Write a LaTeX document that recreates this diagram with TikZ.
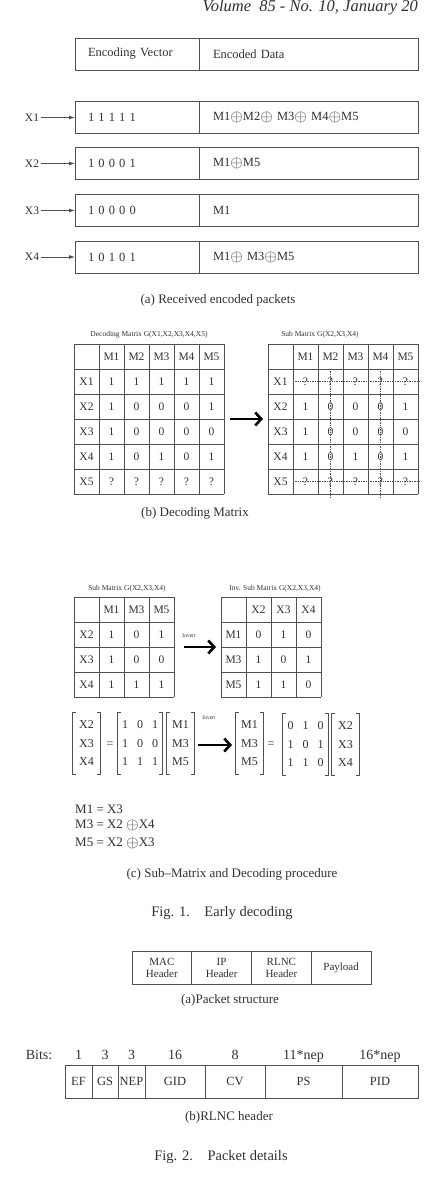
\documentclass[tikz,border=0pt]{standalone}
\usepackage{fontspec}
\setmainfont{Liberation Serif}
\usepackage{xcolor}
\definecolor{ink}{HTML}{303030}
\definecolor{rule}{HTML}{505050}
\usepackage{tikz}
\usetikzlibrary{positioning,arrows.meta}
\newcommand\fsz[2]{\fontsize{#1}{#2}\selectfont}
\newcommand\xorop{\raisebox{-0.15ex}{\scalebox{1.35}{$\oplus$}}}
\renewcommand\arraystretch{1.3}

\begin{document}
\begin{tikzpicture}[x=1pt,y=-1pt,text=ink,
  pkbox/.style={draw=rule,line width=0.9pt,outer sep=0pt,inner ysep=0pt,minimum height=32pt,align=left,font=\fsz{12.5}{15}},
  vecbox/.style={pkbox,text width=98pt,inner xsep=13pt},
  datbox/.style={pkbox,text width=191pt,inner xsep=14pt},
  lbl/.style={font=\fsz{11.5}{14},inner sep=2pt},
  pkarrow/.style={draw=rule,line width=0.8pt,-{Latex[length=6pt,width=4pt]}},
  tline/.style={draw=rule,line width=1pt},
  cell/.style={font=\fsz{11.5}{14},inner sep=0pt},
  ttl/.style={font=\fsz{7.5}{9}},
  caption/.style={font=\fsz{13}{16}},
  figcap/.style={font=\fsz{14.5}{17}},
  bigarrow/.style={line width=2.6pt,-{Straight Barb[length=6pt,width=13pt]}},
  dotline/.style={draw=rule,densely dotted,line width=0.7pt},
  brk/.style={draw=rule,line width=0.8pt},
  eq/.style={font=\fsz{12}{14.4},inner xsep=3pt,inner ysep=0pt,minimum height=61pt},
  field/.style={draw=rule,line width=0.9pt,outer sep=0pt,minimum height=33pt,inner sep=0pt,font=\fsz{12.5}{15}}]

  \useasboundingbox (0,0) rectangle (433,1180);
  \node[anchor=base west,font=\itshape\fsz{16.5}{19}] (vol) at (199,12) {Volume\ \ 85 - No. 10, January 20};

  % (a) received packets
  \node[vecbox,anchor=west] (hv) at (75,54) {Encoding Vector};
  \node[datbox,right=0pt of hv] (hd) {Encoded Data};
  \foreach \i/\y/\vec/\dat in {
    1/117.5/1 1 1 1 1/{M1\xorop M2\xorop\ M3\xorop\ M4\xorop M5},
    2/163.5/1 0 0 0 1/{M1\xorop M5},
    3/210.5/1 0 0 0 0/{M1},
    4/257/1 0 1 0 1/{M1\xorop\ M3\xorop M5}} {
    \node[vecbox,anchor=west] (v\i) at (75,\y) {\vec};
    \node[datbox,right=0pt of v\i] (d\i) {\dat};
    \node[lbl] (x\i) at (32,\y) {X\i};
    \draw[pkarrow] (x\i) -- (v\i);
  }
  \node[caption] (capa) at (218,300) {(a) Received encoded packets};

  % table grids
  \foreach \ox/\oy/\n in {74/344/6,268/344/6,74/597/4,221/597/4}
    \foreach \k in {0,...,\n} {
      \draw[tline] (\ox+25*\k,\oy) -- (\ox+25*\k,\oy+25*\n);
      \draw[tline] (\ox,\oy+25*\k) -- (\ox+25*\n,\oy+25*\k);
    }

  % (b) decoding matrix
  \node[ttl] (tb1) at (149,335) {Decoding Matrix G(X1,X2,X3,X4,X5)};
  \node[ttl] (tb2) at (320,335) {Sub Matrix G(X2,X3,X4)};
  \foreach \j in {1,...,5} {
    \node[cell] (bl-h\j) at (86.5+25*\j,356.5) {M\j};
    \node[cell] (br-h\j) at (280.5+25*\j,356.5) {M\j};
  }
  \foreach \r/\vals [count=\i] in {X1/{1,1,1,1,1},X2/{1,0,0,0,1},X3/{1,0,0,0,0},X4/{1,0,1,0,1},X5/{?,?,?,?,?}} {
    \node[cell] (bl-\i) at (86.5,356.5+25*\i) {\r};
    \foreach \v [count=\j] in \vals
      \node[cell] (bl-\i-\j) at (86.5+25*\j,356.5+25*\i) {\v};
  }
  \foreach \r/\vals [count=\i] in {X1/{?,?,?,?,?},X2/{1,0,0,0,1},X3/{1,0,0,0,0},X4/{1,0,1,0,1},X5/{?,?,?,?,?}} {
    \node[cell] (br-\i) at (280.5,356.5+25*\i) {\r};
    \foreach \v [count=\j] in \vals
      \node[cell] (br-\i-\j) at (280.5+25*\j,356.5+25*\i) {\v};
  }
  \draw[dotline] (293,381.5) -- (420,381.5);
  \draw[dotline] (293,481.5) -- (420,481.5);
  \draw[dotline] (330.5,369) -- (330.5,498);
  \draw[dotline] (380.5,369) -- (380.5,498);
  \coordinate (b-tail) at (230,419);
  \coordinate (b-head) at (263,419);
  \draw[bigarrow] (b-tail) -- (b-head);
  \node[caption] (capb) at (195,513) {(b) Decoding Matrix};

  % (c) sub-matrix and inverse
  \node[ttl] (tc1) at (127,589) {Sub Matrix G(X2,X3,X4)};
  \node[ttl] (tc2) at (275,589) {Inv. Sub Matrix G(X2,X3,X4)};
  \foreach \a/\b [count=\j] in {M1/X2,M3/X3,M5/X4} {
    \node[cell] (cl-h\j) at (86.5+25*\j,609.5) {\a};
    \node[cell] (cr-h\j) at (233.5+25*\j,609.5) {\b};
  }
  \foreach \ra/\va/\rb/\vb [count=\i] in {X2/{1,0,1}/M1/{0,1,0},X3/{1,0,0}/M3/{1,0,1},X4/{1,1,1}/M5/{1,1,0}} {
    \node[cell] (cl-\i) at (86.5,609.5+25*\i) {\ra};
    \node[cell] (cr-\i) at (233.5,609.5+25*\i) {\rb};
    \foreach \v [count=\j] in \va
      \node[cell] (cl-\i-\j) at (86.5+25*\j,609.5+25*\i) {\v};
    \foreach \v [count=\j] in \vb
      \node[cell] (cr-\i-\j) at (233.5+25*\j,609.5+25*\i) {\v};
  }
  \node[font=\fsz{5.5}{7}] (inv1) at (189,636) {Invert};
  \coordinate (c-tail) at (184,647);
  \coordinate (c-head) at (216,647);
  \draw[bigarrow] (c-tail) -- (c-head);

  % matrix equations
  \node[eq,minimum width=27pt] (e1) at (86.5,743.5) {\begin{tabular}{@{}c@{}}X2\\X3\\X4\end{tabular}};
  \node[eq,minimum height=0pt] (e2) at (110,745) {=};
  \node[eq,minimum width=44pt] (e3) at (140,743.5) {\begin{tabular}{@{}c@{\hspace{9pt}}c@{\hspace{9pt}}c@{}}1&0&1\\1&0&0\\1&1&1\end{tabular}};
  \node[eq,minimum width=27pt] (e4) at (180.5,743.5) {\begin{tabular}{@{}c@{}}M1\\M3\\M5\end{tabular}};
  \node[font=\fsz{5.5}{7}] (inv2) at (209,718) {Invert};
  \coordinate (e-tail) at (198,745);
  \coordinate (e-head) at (232,745);
  \draw[bigarrow] (e-tail) -- (e-head);
  \node[eq,minimum width=27pt] (e6) at (249.5,743.5) {\begin{tabular}{@{}c@{}}M1\\M3\\M5\end{tabular}};
  \node[eq,minimum height=0pt] (e7) at (271,745) {=};
  \node[eq,minimum width=45pt] (e8) at (305.5,744.5) {\begin{tabular}{@{}c@{\hspace{9pt}}c@{\hspace{9pt}}c@{}}0&1&0\\1&0&1\\1&1&0\end{tabular}};
  \node[eq,minimum width=27pt] (e9) at (345.5,744.5) {\begin{tabular}{@{}c@{}}X2\\X3\\X4\end{tabular}};
  \foreach \n in {e1,e3,e4,e6,e8,e9}
    \draw[brk] ([xshift=3pt]\n.north west) -- (\n.north west) -- (\n.south west) -- ([xshift=3pt]\n.south west)
               ([xshift=-3pt]\n.north east) -- (\n.north east) -- (\n.south east) -- ([xshift=-3pt]\n.south east);

  \foreach \t/\y [count=\i] in {M1 = X3/809,M3 = X2 \xorop X4/825,M5 = X2 \xorop X3/843}
    \node[font=\fsz{13}{15},anchor=west,inner sep=0pt] (sol\i) at (75,\y) {\t};
  \node[caption] (capc) at (232,874) {(c) Sub--Matrix and Decoding procedure};
  \node[figcap] (fig1) at (222,913) {Fig. 1.\quad Early decoding};

  % packet structure
  \foreach \t [count=\i] in {{MAC\\Header},{IP\\Header},{RLNC\\Header},Payload}
    \node[field,minimum width=59.75pt,align=center,font=\fsz{11}{12.5}] (ps\i) at (102.125+59.75*\i,968) {\t};
  \node[caption] (capd) at (230,1000) {(a)Packet structure};

  % RLNC header
  \node[font=\fsz{14}{16},anchor=base] (bits) at (39,1059) {Bits:};
  \foreach \a/\b/\f/\n [count=\i] in {65/92/EF/1,92/118/GS/3,118/145/NEP/3,145/205/GID/16,205/265/CV/8,265/342/PS/11*nep,342/418/PID/16*nep} {
    \node[field,minimum width={(\b-\a)*1pt}] (rh\i) at ({(\a+\b)/2},1081.5) {\f};
    \node[font=\fsz{14}{16},anchor=base] (nb\i) at ({(\a+\b)/2},1059) {\n};
  }
  \node[caption] (cape) at (229,1117) {(b)RLNC header};
  \node[figcap] (fig2) at (221,1157) {Fig. 2.\quad Packet details};
\end{tikzpicture}
\end{document}
